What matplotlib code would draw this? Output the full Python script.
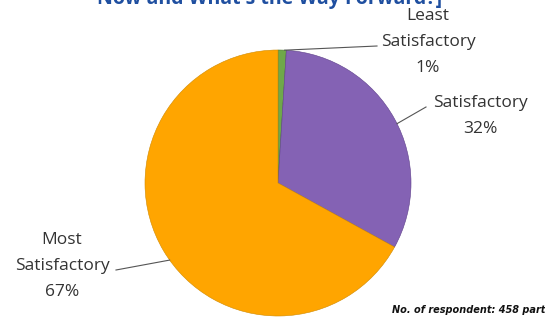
import numpy as np
import matplotlib

matplotlib.use("Agg")
import matplotlib.pyplot as plt

# slice data (clockwise from the top)
labels = ["Least\nSatisfactory", "Satisfactory", "Most\nSatisfactory"]
values = [1, 32, 67]
colors = ["#6FA84A", "#8462B4", "#FFA500"]

title = "Now and What's the Way Forward?]"
footnote = "No. of respondent: 458 participants"

plt.rcParams["font.family"] = ["Open Sans", "DejaVu Sans"]

fig = plt.figure(figsize=(5.45, 3.2), dpi=100)
ax = fig.add_axes([0, 0, 1, 1])

cx, cy, r = 278, 137, 133
wedges, _ = ax.pie(values, colors=colors, startangle=90, counterclock=False,
                   center=(cx, cy), radius=r, frame=True,
                   wedgeprops=dict(edgecolor="#d08a00", linewidth=0.4))
wedges[0].set_edgecolor("#4f7a30")
wedges[1].set_edgecolor("#5e3f8a")
ax.set_xlim(0, 545)
ax.set_ylim(0, 320)
ax.set_aspect("equal")
ax.axis("off")

# label positions, leader-line ends and where on the slice the line starts
text_pos = [(428, 278), (480, 204), (62, 54)]
line_end = [(377, 274), (426, 213), (116, 50)]
line_frac = [0.8, 0.52, 0.48]
tot = sum(values)
cum = 0
for i, v in enumerate(values):
    mid = 90 - 360 * (cum + v * line_frac[i]) / tot
    cum += v
    px = cx + r * np.cos(np.radians(mid))
    py = cy + r * np.sin(np.radians(mid))
    ax.plot([px, line_end[i][0]], [py, line_end[i][1]], color="#555555", lw=0.8)
    ax.text(text_pos[i][0], text_pos[i][1], labels[i] + "\n" + f"{v}%", ha="center",
            va="center", fontsize=12.5, color="#333333", linespacing=1.8)

ax.text(270, 316, title, ha="center", va="baseline", fontsize=14, fontweight="bold",
        color="#1F4FA0", clip_on=False)
ax.text(392, 10, footnote, ha="left", va="center", fontsize=7, fontweight="bold",
        style="italic", color="#111111", clip_on=False, family="DejaVu Sans")

fig.savefig("out.png", dpi=100)
